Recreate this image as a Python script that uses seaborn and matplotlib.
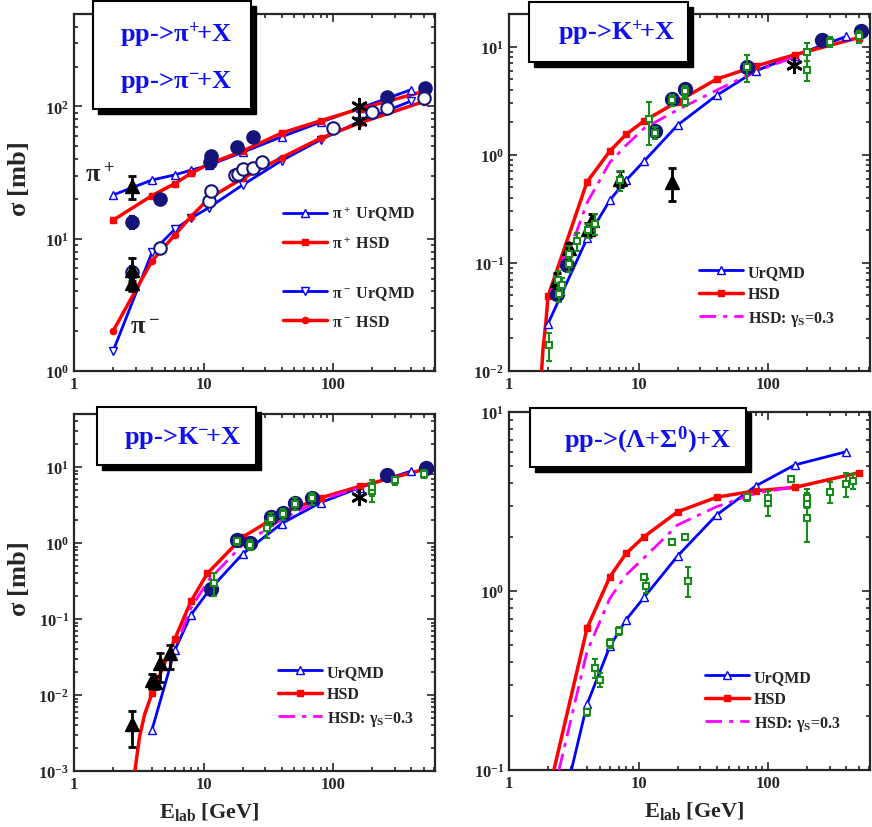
import numpy as np
import matplotlib
matplotlib.use("Agg")
import matplotlib.pyplot as plt
from matplotlib.lines import Line2D
from matplotlib.patches import Rectangle
import seaborn as sns

# ---------------- data ----------------
# pp -> pi+ / pi- + X
pip_urqmd_x = [2, 4, 6, 8, 11, 20, 40, 80, 160, 400]
pip_urqmd_y = [21.4, 27.8, 30.4, 33, 36, 45, 59, 76, 97, 134]
pip_hsd_x = [2, 4, 6, 8, 11, 20, 40, 80, 160, 500]
pip_hsd_y = [13.8, 21.2, 26.1, 31.2, 36.8, 46, 63, 78, 96, 130]
pim_urqmd_x = [2, 4, 6, 8, 11, 20, 40, 80, 160, 400]
pim_urqmd_y = [1.41, 7.9, 11.8, 14.3, 17.2, 25.5, 39, 56, 77, 110]
pim_hsd_x = [2, 4, 6, 8, 11, 20, 40, 80, 160, 500]
pim_hsd_y = [2.0, 6.8, 10.7, 14.7, 20.2, 28.6, 41, 57.6, 75, 109]

pip_data_x = [2.8, 4.6, 11.2, 11.5, 18, 24, 260, 510]
pip_data_y = [13.4, 19.9, 37.7, 41.9, 49.8, 59, 118, 138]
pip_data_err = [1.5, 2.0, 3.0, 3.5, 4.0, 5.0, 9.0, 10.0]
pim_data_x = [2.8, 4.6, 11, 11.5, 17.5, 18.5, 20, 24, 28, 100, 200, 260, 500]
pim_data_y = [5.6, 8.55, 19.4, 23, 30.3, 31, 33.5, 34.5, 37.7, 68.5, 90.6, 97, 116]
pim_data_err = [0.6, 0.8, 1.5, 2.0, 2.0, 2.0, 2.5, 2.5, 3.0, 5.0, 6.0, 7.0, 8.0]
pi_tri_x = [2.8, 2.8, 2.8]
pi_tri_y = [25, 5.8, 4.6]
pi_tri_lo = [5, 1.0, 0.6]
pi_tri_hi = [5, 1.4, 0.7]
pi_star_x = [158, 158]
pi_star_y = [100, 77]

# pp -> K+ + X
kp_urqmd_x = [2, 4, 6, 8, 11, 20, 40, 80, 160, 400]
kp_urqmd_y = [0.0274, 0.168, 0.38, 0.58, 0.87, 1.88, 3.54, 5.95, 8.26, 12.4]
kp_hsd_tail_x = [1.75, 1.83, 1.93]
kp_hsd_tail_y = [0.007, 0.016, 0.029]
kp_hsd_x = [2, 4, 6, 8, 11, 20, 40, 80, 160, 500]
kp_hsd_y = [0.049, 0.56, 1.08, 1.54, 2.05, 3.1, 5.0, 6.6, 8.4, 12.1]
kp_gam_x = [2, 2.8, 3.3, 4, 6, 8, 11, 20, 40, 80, 160]
kp_gam_y = [0.045, 0.135, 0.19, 0.36, 0.85, 1.22, 1.75, 2.6, 3.95, 5.9, 8.0]

kp_circ_x = [2.35, 2.8, 13.5, 18, 23, 69, 260, 520]
kp_circ_y = [0.051, 0.095, 1.66, 3.3, 4.05, 6.5, 11.5, 13.8]
kp_tri_x = [2.35, 2.9, 4.1, 4.4, 7.2, 18]
kp_tri_y = [0.069, 0.136, 0.205, 0.247, 0.60, 0.56]
kp_tri_lo = [0.01, 0.015, 0.03, 0.03, 0.1, 0.19]
kp_tri_hi = [0.012, 0.018, 0.03, 0.035, 0.1, 0.2]
kp_sq_x = [2.03, 2.38, 2.42, 2.55, 2.9, 2.9, 3.33, 4.05, 4.6, 7.2, 12, 13.5, 18, 23, 23, 69, 200, 200, 300, 500]
kp_sq_y = [0.0175, 0.069, 0.051, 0.062, 0.122, 0.097, 0.16, 0.2, 0.23, 0.58, 2.14, 1.6, 3.2, 3.1, 3.9, 6.5, 9.0, 6.1, 11.1, 12.4]
kp_sq_err = [0.005, 0.015, 0.008, 0.01, 0.02, 0.015, 0.03, 0.03, 0.05, 0.12, 0.9, 0.2, 0.4, 0.3, 0.4, 1.8, 1.7, 1.3, 1.2, 1.5]
kp_star_x = [158]
kp_star_y = [6.7]

# pp -> K- + X
km_urqmd_x = [4, 6, 8, 11, 20, 40, 80, 160, 400]
km_urqmd_y = [0.0035, 0.039, 0.114, 0.238, 0.72, 1.81, 3.41, 5.37, 8.87]
km_hsd_tail_x = [2.9, 3.2, 3.5]
km_hsd_tail_y = [0.0008, 0.0028, 0.0055]
km_hsd_x = [4, 6, 8, 10.7, 20, 40, 80, 160, 500]
km_hsd_y = [0.0105, 0.055, 0.172, 0.40, 1.2, 2.45, 3.93, 5.58, 9.3]
km_gam_x = [5.5, 6, 8, 11, 20, 40, 80, 160]
km_gam_y = [0.025, 0.04, 0.14, 0.33, 0.95, 2.05, 3.7, 5.4]

km_circ_x = [11.5, 18, 23, 33, 41, 51, 69, 260, 520]
km_circ_y = [0.247, 1.1, 1.0, 2.21, 2.52, 3.38, 3.97, 7.8, 9.8]
km_tri_x = [2.8, 4.0, 4.2, 4.6, 5.5]
km_tri_y = [0.0041, 0.016, 0.015, 0.0265, 0.036]
km_tri_lo = [0.002, 0.003, 0.003, 0.0115, 0.014]
km_tri_hi = [0.002, 0.003, 0.003, 0.0095, 0.009]
km_sq_x = [12, 18, 23, 31, 33, 41, 51, 69, 200, 200, 300, 500]
km_sq_y = [0.3, 1.05, 0.95, 1.56, 2.1, 2.4, 3.3, 3.9, 4.8, 5.5, 6.7, 8.2]
km_sq_err = [0.1, 0.1, 0.15, 0.4, 0.4, 0.4, 0.6, 0.7, 1.3, 1.3, 0.8, 1.0]
km_star_x = [158]
km_star_y = [4.0]

# pp -> (Lambda + Sigma0) + X
la_urqmd_tail_x = [3.03]
la_urqmd_tail_y = [0.1]
la_urqmd_x = [4, 6, 8, 11, 20, 40, 80, 160, 400]
la_urqmd_y = [0.233, 0.49, 0.69, 0.92, 1.57, 2.66, 3.86, 5.06, 6.0]
la_hsd_tail_x = [2.22]
la_hsd_tail_y = [0.1]
la_hsd_x = [4, 6, 8, 11, 20, 40, 80, 160, 500]
la_hsd_y = [0.62, 1.20, 1.62, 2.01, 2.77, 3.34, 3.63, 3.79, 4.58]
la_gam_x = [2.43, 4, 6, 8, 11, 20, 40, 80, 160]
la_gam_y = [0.1, 0.46, 0.91, 1.23, 1.53, 2.34, 2.96, 3.51, 3.83]

la_sq_x = [4, 4.6, 5, 6, 7, 11, 11.5, 18, 23, 24, 69, 100, 100, 150, 200, 200, 200, 300, 400, 450]
la_sq_y = [0.21, 0.373, 0.32, 0.51, 0.6, 1.19, 1.07, 1.87, 2.01, 1.14, 3.34, 3.11, 3.3, 4.2, 2.57, 3.05, 3.3, 3.59, 3.94, 4.1]
la_sq_err = [0.01, 0.045, 0.03, 0.03, 0.03, 0.04, 0.1, 0.05, 0.05, 0.22, 0.15, 0.5, 0.3, 0.15, 0.7, 0.5, 0.4, 0.5, 0.6, 0.4]

# ---------------- style ----------------
sns.set_style("ticks")
plt.rcParams['font.family'] = ['Liberation Serif', 'DejaVu Serif']
plt.rcParams['font.weight'] = 'bold'
plt.rcParams['mathtext.fontset'] = 'custom'
plt.rcParams['mathtext.rm'] = 'Liberation Serif:bold'
plt.rcParams['mathtext.it'] = 'Liberation Serif:bold'
plt.rcParams['mathtext.bf'] = 'Liberation Serif:bold'
plt.rcParams['mathtext.sf'] = 'Liberation Serif:bold'

BLUE = '#0000ff'
RED = '#ff0000'
MAG = '#ff00ff'
NAVY = '#14147a'
GREEN = '#1a8a1a'
TITLE = '#1010ee'

W, H = 872, 828
fig = plt.figure(figsize=(W / 100, H / 100), dpi=100)


def px_axes(x0, y0, x1, y1):
    return fig.add_axes([x0 / W, 1 - y1 / H, (x1 - x0) / W, (y1 - y0) / H])


ax1 = px_axes(74, 15, 435, 372)
ax2 = px_axes(509, 15, 870, 372)
ax3 = px_axes(74, 415, 435, 772)
ax4 = px_axes(509, 413, 870, 771)

ylims = {ax1: (1, 500), ax2: (0.01, 20), ax3: (1e-3, 50), ax4: (0.1, 10)}

for ax in [ax1, ax2, ax3, ax4]:
    ax.set_xscale('log')
    ax.set_yscale('log')
    ax.set_xlim(1, 610)
    ax.set_ylim(*ylims[ax])
    ax.set_xticks([1, 10, 100])
    ax.set_xticklabels(['1', '10', '100'])
    ax.tick_params(which='both', direction='in', top=True, right=True,
                   labelsize=12, width=1.2)
    ax.tick_params(which='major', length=6)
    ax.tick_params(which='minor', length=3)
    for s in ax.spines.values():
        s.set_linewidth(1.6)


def model(ax, x, y, color, marker, mfc, ms=5.5, lw=2.0, tail_x=(), tail_y=()):
    sns.lineplot(x=list(tail_x) + list(x), y=list(tail_y) + list(y), ax=ax,
                 color=color, lw=lw, sort=False, estimator=None, zorder=3)
    ax.plot(x, y, ls='none', marker=marker, ms=ms, mfc=mfc, mec=color,
            mew=1.0, zorder=4)


def gamma_line(ax, x, y):
    sns.lineplot(x=x, y=y, ax=ax, color=MAG, lw=2.0, sort=False,
                 estimator=None, zorder=3, dashes=False)
    ax.lines[-1].set_linestyle((0, (6, 2.5, 1.5, 2.5)))


def errpts(ax, x, y, err, color, marker, ms, mfc, mec, capsize=2.5, z=5):
    ax.errorbar(x, y, yerr=err, fmt=marker, ms=ms, mfc=mfc, mec=mec,
                ecolor=color, elinewidth=1.5, capsize=capsize, capthick=1.5,
                mew=1.5, zorder=z)


def stars(ax, x, y):
    sns.scatterplot(x=x, y=y, ax=ax, marker=(6, 2, 0), s=110, color='black',
                    linewidth=2.0, edgecolor='black', zorder=6)


# ---- panel 1 ----
model(ax1, pip_urqmd_x, pip_urqmd_y, BLUE, '^', 'white')
model(ax1, pip_hsd_x, pip_hsd_y, RED, 's', RED, ms=4.5, lw=2.5)
model(ax1, pim_urqmd_x, pim_urqmd_y, BLUE, 'v', 'white')
model(ax1, pim_hsd_x, pim_hsd_y, RED, 'o', RED, ms=4.5, lw=2.5)
errpts(ax1, pip_data_x, pip_data_y, pip_data_err, NAVY, 'o', 9, NAVY, NAVY)
errpts(ax1, pim_data_x, pim_data_y, pim_data_err, NAVY, 'o', 9, 'white', NAVY)
ax1.errorbar(pi_tri_x, pi_tri_y, yerr=[pi_tri_lo, pi_tri_hi], fmt='^', ms=10,
             color='black', elinewidth=2, capsize=3, capthick=2, zorder=6)
stars(ax1, pi_star_x, pi_star_y)
ax1.text(100 / W, 1 - 175 / H, r'$\pi^+$', transform=fig.transFigure,
         fontsize=19, ha='center', va='center', fontweight='normal')
ax1.text(145 / W, 1 - 328 / H, r'$\pi^-$', transform=fig.transFigure,
         fontsize=19, ha='center', va='center', fontweight='normal')

leg_kw = dict(frameon=False, fontsize=11.5, handlelength=2.75, handletextpad=0.3,
              labelspacing=0.75, borderpad=0, borderaxespad=0, loc='upper left',
              bbox_transform=fig.transFigure)
h_pip_u = Line2D([], [], color=BLUE, lw=2, marker='^', ms=5.5, mfc='white', mec=BLUE)
h_pip_h = Line2D([], [], color=RED, lw=2.5, marker='s', ms=4.5, mfc=RED, mec=RED)
h_pim_u = Line2D([], [], color=BLUE, lw=2, marker='v', ms=5.5, mfc='white', mec=BLUE)
h_pim_h = Line2D([], [], color=RED, lw=2.5, marker='o', ms=4.5, mfc=RED, mec=RED)
lg1 = ax1.legend([h_pip_u, h_pip_h], [r'$\pi^+$ UrQMD', r'$\pi^+$ HSD'],
                 bbox_to_anchor=(283 / W, 1 - 205 / H), **leg_kw)
ax1.add_artist(lg1)
ax1.legend([h_pim_u, h_pim_h], [r'$\pi^-$ UrQMD', r'$\pi^-$ HSD'],
           bbox_to_anchor=(283 / W, 1 - 285 / H), **leg_kw)

# ---- panel 2 ----
model(ax2, kp_urqmd_x, kp_urqmd_y, BLUE, '^', 'white')
model(ax2, kp_hsd_x, kp_hsd_y, RED, 's', RED, ms=4.5, lw=2.5,
      tail_x=kp_hsd_tail_x, tail_y=kp_hsd_tail_y)
gamma_line(ax2, kp_gam_x, kp_gam_y)
ax2.plot(kp_circ_x, kp_circ_y, ls='none', marker='o', ms=10, color=NAVY, zorder=5)
ax2.errorbar(kp_tri_x, kp_tri_y, yerr=[kp_tri_lo, kp_tri_hi], fmt='^', ms=10,
             color='black', elinewidth=2, capsize=3, capthick=2, zorder=6)
errpts(ax2, kp_sq_x, kp_sq_y, kp_sq_err, GREEN, 's', 5, 'white', GREEN, z=7)
stars(ax2, kp_star_x, kp_star_y)

h_u = Line2D([], [], color=BLUE, lw=2, marker='^', ms=5.5, mfc='white', mec=BLUE)
h_h = Line2D([], [], color=RED, lw=2.5, marker='s', ms=4.5, mfc=RED, mec=RED)
h_g = Line2D([], [], color=MAG, lw=2, ls=(0, (6, 2.5, 1.5, 2.5)))
lab3 = ['UrQMD', 'HSD', r'HSD: $\gamma_S$=0.3']
ax2.legend([h_u, h_h, h_g], lab3, bbox_to_anchor=(699 / W, 1 - 265 / H),
           **dict(leg_kw, labelspacing=0.4))

# ---- panel 3 ----
model(ax3, km_urqmd_x, km_urqmd_y, BLUE, '^', 'white')
model(ax3, km_hsd_x, km_hsd_y, RED, 's', RED, ms=4.5, lw=2.5,
      tail_x=km_hsd_tail_x, tail_y=km_hsd_tail_y)
gamma_line(ax3, km_gam_x, km_gam_y)
ax3.plot(km_circ_x, km_circ_y, ls='none', marker='o', ms=10, color=NAVY, zorder=5)
ax3.errorbar(km_tri_x, km_tri_y, yerr=[km_tri_lo, km_tri_hi], fmt='^', ms=10,
             color='black', elinewidth=2, capsize=3, capthick=2, zorder=6)
errpts(ax3, km_sq_x, km_sq_y, km_sq_err, GREEN, 's', 5, 'white', GREEN, z=7)
stars(ax3, km_star_x, km_star_y)
ax3.legend([h_u, h_h, h_g], lab3, bbox_to_anchor=(278 / W, 1 - 665 / H),
           **dict(leg_kw, labelspacing=0.4))

# ---- panel 4 ----
model(ax4, la_urqmd_x, la_urqmd_y, BLUE, '^', 'white',
      tail_x=la_urqmd_tail_x, tail_y=la_urqmd_tail_y)
model(ax4, la_hsd_x, la_hsd_y, RED, 's', RED, ms=4.5, lw=2.5,
      tail_x=la_hsd_tail_x, tail_y=la_hsd_tail_y)
gamma_line(ax4, la_gam_x, la_gam_y)
errpts(ax4, la_sq_x, la_sq_y, la_sq_err, GREEN, 's', 5, 'white', GREEN, z=7)
ax4.legend([h_u, h_h, h_g], lab3, bbox_to_anchor=(705 / W, 1 - 670 / H),
           **dict(leg_kw, labelspacing=0.4))

# ---- axis labels ----
for ax in [ax1, ax3]:
    ax.set_ylabel(r'$\sigma$ [mb]', fontsize=19, fontweight='bold', va='center')
    ax.yaxis.set_label_coords(-0.155, 0.54)
for ax, xc in [(ax3, 0.374), (ax4, 0.512)]:
    ax.set_xlabel(r'E$_{\rm lab}$ [GeV]', fontsize=16, fontweight='bold', va='center')
    ax.xaxis.set_label_coords(xc, -0.112)


# ---- title boxes with drop shadow ----
def title_box(x0, y0, x1, y1, lines):
    sh = 5
    fig.add_artist(Rectangle((x0 / W + sh / W, 1 - (y1 + sh) / H), (x1 - x0) / W,
                             (y1 - y0) / H, transform=fig.transFigure,
                             facecolor='black', edgecolor='black', zorder=10))
    fig.add_artist(Rectangle((x0 / W, 1 - y1 / H), (x1 - x0) / W, (y1 - y0) / H,
                             transform=fig.transFigure, facecolor='white',
                             edgecolor='black', lw=1.5, zorder=11))
    for (tx, ty, s) in lines:
        fig.text(tx / W, 1 - ty / H, s, fontsize=19, color=TITLE,
                 fontweight='bold', ha='center', va='center', zorder=12)


title_box(93, 2, 251, 110, [(176, 35, r'pp->$\pi^{+}\!$+X'), (176, 82, r'pp->$\pi^{-}\!$+X')])
title_box(529, 3, 688, 63, [(617, 33, r'pp->K$^{+}\!$+X')])
title_box(97, 408, 256, 466, [(183, 438, r'pp->K$^{-}\!$+X')])
title_box(530, 409, 746, 468, [(648, 440, r'pp->($\Lambda$+$\Sigma^{0}$)+X')])

fig.savefig('out.png', dpi=100)
